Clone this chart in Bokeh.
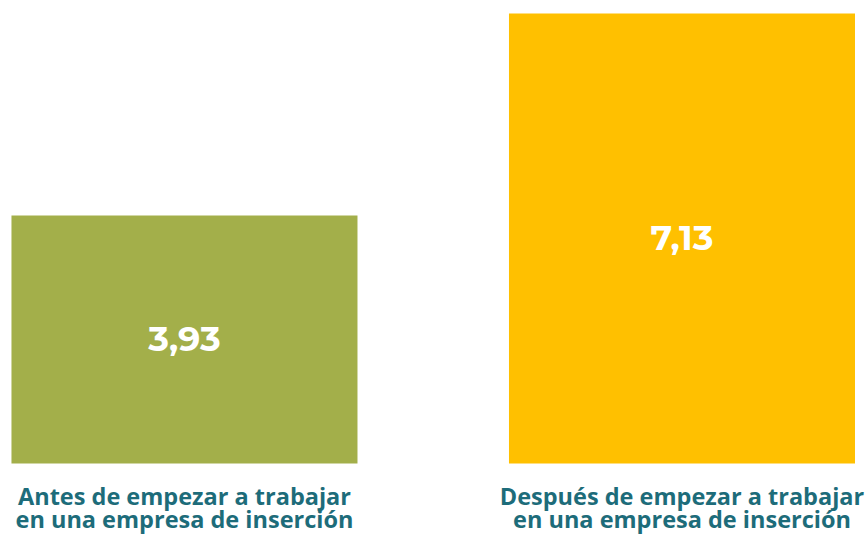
from bokeh.plotting import figure
from bokeh.models import ColumnDataSource, Range1d
from bokeh.core.properties import value
from bokeh.embed import file_html
from bokeh.resources import INLINE

categories_line1 = ["Antes de empezar a trabajar", "Después de empezar a trabajar"]
categories_line2 = ["en una empresa de inserción", "en una empresa de inserción"]
values = [3.93, 7.13]
value_labels = ["3,93", "7,13"]
colors = ["#A3AF4A", "#FFC000"]

xs = list(range(len(values)))
src = ColumnDataSource(dict(
    x=xs, top=values, color=colors, vlab=value_labels,
    mid=[v / 2 for v in values], c1=categories_line1, c2=categories_line2,
    zero=[0] * len(values),
))

W, H = 868, 534
p = figure(width=W, height=H, output_backend="svg", toolbar_location=None,
           x_range=Range1d(-0.3698, 1.3749), y_range=Range1d(-1.125, 7.336),
           min_border=0, outline_line_color=None)
p.axis.visible = False
p.grid.visible = False
p.background_fill_color = "white"
p.border_fill_color = "white"

p.vbar(x="x", top="top", bottom=0, width=0.6955, color="color", source=src, line_color=None)
p.text(x="x", y="mid", text="vlab", source=src, text_color="white",
       text_font=value("Montserrat, Open Sans"), text_font_style="bold",
       text_font_size="35px", text_align="center", text_baseline="middle")
for col, off in (("c1", 33), ("c2", 56)):
    p.text(x="x", y="zero", text=col, source=src, text_color="#1D6C7A",
           text_font=value("Open Sans"), text_font_style="bold",
           text_font_size="23.5px", text_align="center", text_baseline="middle",
           y_offset=off)

open("out.html", "w").write(file_html(p, INLINE))
